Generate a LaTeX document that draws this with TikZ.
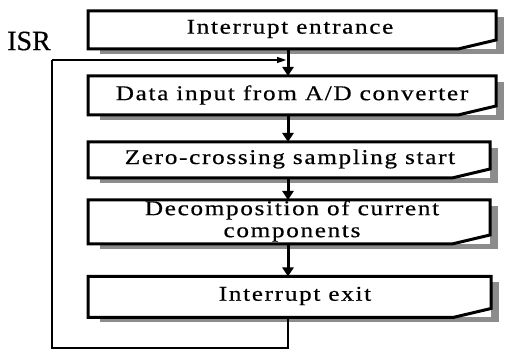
\documentclass[tikz,border=0pt]{standalone}
\usepackage{fontspec}
\setmainfont{Liberation Serif}
\newfontfamily\boxfont[FakeStretch=1.2,LetterSpace=8,FakeBold=0.5]{Liberation Serif}
\newfontfamily\labelfont[FakeBold=0.4]{Liberation Serif}
\usetikzlibrary{arrows.meta,calc}
\tikzset{
  boxarea/.style={draw=none,inner sep=0pt,outer sep=0pt,minimum width=#1},
  boxline/.style={line width=3pt,line join=miter,fill=white},
  shade strip/.style={fill=black!45,draw=none},
  boxtext/.style={font=\boxfont\fontsize{21}{22}\selectfont,align=center,inner sep=0pt},
  flow/.style={line width=3pt,-{Triangle[length=9pt,width=11pt]}},
  loopline/.style={line width=2.6pt},
  looparrow/.style={line width=2.4pt,-{Triangle[length=10pt,width=5.5pt]}},
}
% chamfered process box with a grey drop strip
\newcommand\chambox[1]{%
  \fill[shade strip] ($(#1.north east)+(0,6)$) rectangle ($(#1.south east)+(8,5)$);
  \fill[shade strip] ($(#1.south west)+(12,0)$) rectangle ($(#1.south east)+(8,5)$);
  \draw[boxline] (#1.north west) -- (#1.north east) -- ($(#1.south east)+(0,-9)$)
    -- ($(#1.south east)+(-38,0)$) -- (#1.south west) -- cycle;
}
\begin{document}
\begin{tikzpicture}[x=1pt,y=-1pt]
\useasboundingbox[fill=white] (0,0) rectangle (506,352);

\node[boxarea=408pt,minimum height=38pt] (b1) at (292,30) {};
\node[boxarea=408pt,minimum height=39pt] (b2) at (292,95.5) {};
\node[boxarea=402pt,minimum height=36pt] (b3) at (289,160) {};
\node[boxarea=402pt,minimum height=44pt] (b4) at (289,222) {};
\node[boxarea=403pt,minimum height=41pt] (b5) at (289.5,297) {};

\chambox{b1}
\chambox{b2}
\chambox{b3}
\chambox{b4}
\chambox{b5}

\node[boxtext] (t1) at (290,29) {Interrupt entrance};
\node[boxtext] (t2) at (292,95) {Data input from A/D converter};
\node[boxtext] (t3) at (290,159) {Zero-crossing sampling start};
\node[boxtext] (t4) at (292,221) {Decomposition of current\\components};
\node[boxtext] (t5) at (295,296) {Interrupt exit};

\node[font=\labelfont\fontsize{28}{29}\selectfont,inner sep=0pt] (isr) at (29,41) {ISR};

\coordinate (ax) at (288,0);
\coordinate (lb) at (52,348);
\coordinate (lt) at (52,60);

\draw[flow] (b1.south -| ax) -- (b2.north -| ax);
\draw[flow] (b2.south -| ax) -- (b3.north -| ax);
\draw[flow] (b3.south -| ax) -- (b4.north -| ax);
\draw[flow] (b4.south -| ax) -- (b5.north -| ax);

\draw[loopline] (b5.south -| ax) -- (ax |- lb) -- (lb) -- (lt);
\draw[looparrow,shorten >=1pt] (lt) -- (ax |- lt);
\end{tikzpicture}
\end{document}
